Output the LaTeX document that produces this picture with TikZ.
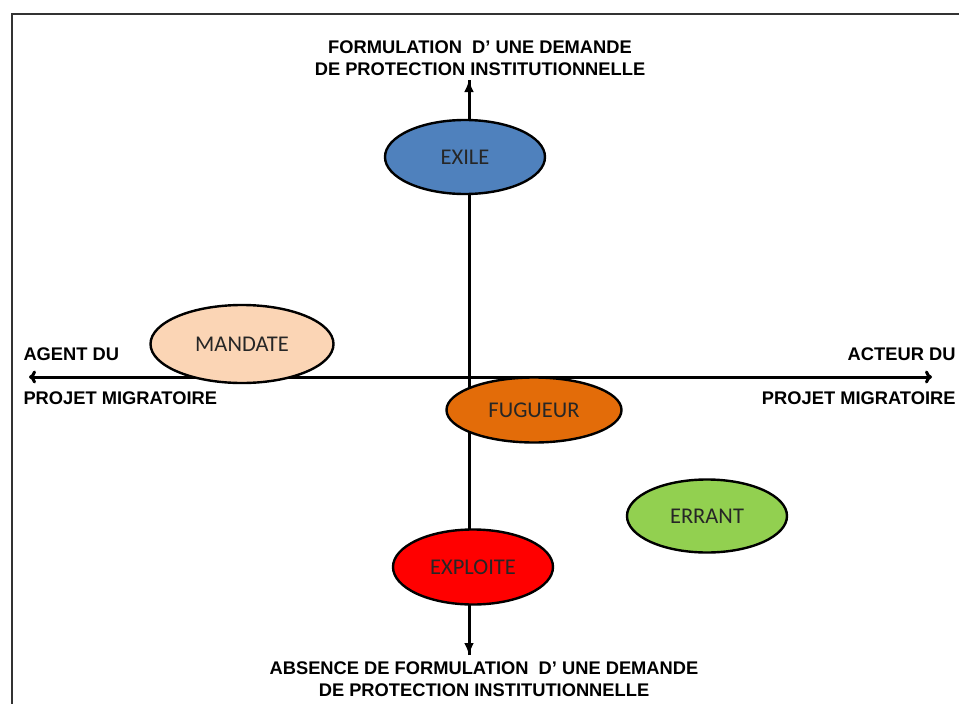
\documentclass[tikz,border=0pt]{standalone}
\usepackage{fontspec}
\setmainfont{Liberation Sans}
\newfontfamily\calib{Carlito}
\usepackage{tikz}
\usetikzlibrary{shapes.geometric, arrows.meta}

\definecolor{exileblue}{HTML}{4F81BD}
\definecolor{mandatepeach}{HTML}{FBD5B5}
\definecolor{fugueurorange}{HTML}{E36C09}
\definecolor{errantgreen}{HTML}{92D050}
\definecolor{exploitered}{HTML}{FF0000}
\definecolor{framegray}{HTML}{333333}

\begin{document}
\begin{tikzpicture}[x=1pt, y=-1pt, line width=3pt]
      \tikzstyle{every node}=[font=\bfseries\fontsize{18.3}{22}\selectfont, inner sep=0pt]
      \tikzstyle{profil}=[ellipse, draw=black, line width=2.4pt, inner sep=0pt,
        font=\calib\fontsize{22.5}{26}\selectfont, text=black!85]
      \useasboundingbox (0,0) rectangle (959,704);
      \draw[framegray, line width=2.6pt] (12,720) |- (975,14);
      \coordinate (haut) at (469,80);
      \coordinate (bas) at (469,655);
      \coordinate (gauche) at (29,377);
      \coordinate (droite) at (932,377);
      \draw[-{Latex[length=12pt,width=10pt]}] (bas) -- (haut);
      \draw[-{Latex[length=12pt,width=10pt]}] (haut) -- (bas);
      \draw[{To[length=7pt,width=13pt]}-{To[length=7pt,width=13pt]}] (gauche) -- (droite);
      \node[align=center] (formul) at (480,58) {FORMULATION\ \ D’ UNE DEMANDE\\DE PROTECTION INSTITUTIONNELLE};
      \node[align=center] (absence) at (484,679) {ABSENCE DE FORMULATION\ \ D’ UNE DEMANDE\\DE PROTECTION INSTITUTIONNELLE};
      \node[anchor=west] (agent) at (22,354) {AGENT DU};
      \node[anchor=west] (agentb) at (22,398) {PROJET MIGRATOIRE};
      \node[anchor=east] (acteur) at (957,354) {ACTEUR DU};
      \node[anchor=east] (acteurb) at (957,398) {PROJET MIGRATOIRE};
      \node[profil, fill=exileblue, minimum width=160pt, minimum height=74pt] (exile) at (465,157) {EXILE};
      \node[profil, fill=mandatepeach, minimum width=183pt, minimum height=78pt] (mandate) at (242,344) {MANDATE};
      \node[profil, fill=fugueurorange, minimum width=175pt, minimum height=65pt] (fugueur) at (534,410) {FUGUEUR};
      \node[profil, fill=errantgreen, minimum width=160pt, minimum height=73pt] (errant) at (707,516) {ERRANT};
      \node[profil, fill=exploitered, minimum width=160pt, minimum height=75pt] (exploite) at (473,567) {EXPLOITE};
    \end{tikzpicture}
\end{document}
